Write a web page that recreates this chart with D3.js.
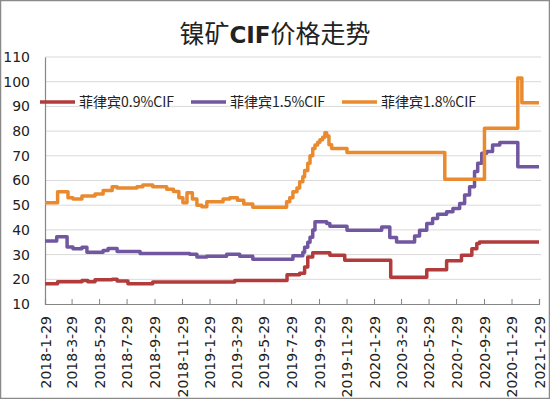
<!DOCTYPE html>
<html>
<head>
<meta charset="utf-8">
<script src="https://cdn.jsdelivr.net/npm/d3@7"></script>
<style>
  body { margin: 0; background: #fff; }
  svg { display: block; }
  text { font-family: "DejaVu Sans", "Noto Sans CJK SC", sans-serif; fill: #222; }
  .cjk { font-family: "Noto Sans CJK SC", "DejaVu Sans", sans-serif; }
</style>
</head>
<body>
<svg id="chart" width="550" height="399"></svg>
<script>
// series names, in legend order
var seriesNames = ["菲律宾0.9%CIF", "菲律宾1.5%CIF", "菲律宾1.8%CIF"];
var seriesColors = ["#B23B3B", "#7157A0", "#EA8A2E"];

// x tick labels (every two months)
var tickLabels = ["2018-1-29", "2018-3-29", "2018-5-29", "2018-7-29", "2018-9-29", "2018-11-29",
  "2019-1-29", "2019-3-29", "2019-5-29", "2019-7-29", "2019-9-29", "2019-11-29",
  "2020-1-29", "2020-3-29", "2020-5-29", "2020-7-29", "2020-9-29", "2020-11-29", "2021-1-29"];
var yTicks = [10, 20, 30, 40, 50, 60, 70, 80, 90, 100, 110];

// price change points (value holds until next date)
var ph09 = [
  ["2018-01-29", 18.2], ["2018-02-26", 19], ["2018-04-21", 19.5], ["2018-05-04", 19],
  ["2018-05-20", 19.8], ["2018-06-27", 20], ["2018-07-08", 19.3], ["2018-08-01", 18.2],
  ["2018-09-25", 18.9], ["2019-03-26", 19.5], ["2019-07-20", 21.8], ["2019-08-17", 22.5],
  ["2019-08-28", 25], ["2019-09-04", 29], ["2019-09-15", 30.7], ["2019-10-23", 29.7],
  ["2019-11-25", 27.7], ["2020-03-06", 20.8], ["2020-05-25", 23.9], ["2020-07-08", 27.5],
  ["2020-08-10", 29.7], ["2020-09-02", 32.4], ["2020-09-13", 34.5], ["2020-09-19", 35.1],
  ["2021-01-29", 35.1]
];
var ph15 = [
  ["2018-01-29", 35.5], ["2018-02-24", 37.2], ["2018-03-19", 33.1], ["2018-04-01", 32.4],
  ["2018-04-21", 33], ["2018-05-02", 31], ["2018-06-07", 31.7], ["2018-06-18", 32.5],
  ["2018-07-08", 31.3], ["2018-08-28", 30.4], ["2018-12-16", 30.1], ["2019-01-01", 29],
  ["2019-01-23", 29.3], ["2019-03-08", 30.1], ["2019-04-06", 29.3], ["2019-05-05", 28.1],
  ["2019-08-02", 29.5], ["2019-08-24", 31], ["2019-08-28", 33], ["2019-09-04", 35],
  ["2019-09-09", 37], ["2019-09-15", 40], ["2019-09-20", 43.3], ["2019-10-16", 42.6],
  ["2019-10-23", 41.5], ["2019-11-30", 39.9], ["2020-02-15", 41.2], ["2020-03-04", 36.9],
  ["2020-03-19", 35.1], ["2020-04-28", 37.5], ["2020-05-09", 39.9], ["2020-05-25", 42.6],
  ["2020-06-07", 44.6], ["2020-06-18", 46.3], ["2020-07-08", 47.3], ["2020-07-22", 48.7],
  ["2020-08-06", 50.7], ["2020-08-17", 54.1], ["2020-08-28", 57.5], ["2020-09-08", 63.6],
  ["2020-09-15", 67], ["2020-09-24", 71], ["2020-10-05", 71.7], ["2020-10-18", 74.4],
  ["2020-11-03", 75.4], ["2020-12-13", 65.6], ["2021-01-29", 65.6]
];
var ph18 = [
  ["2018-01-29", 51], ["2018-02-26", 55.4], ["2018-03-21", 53], ["2018-04-01", 52.5],
  ["2018-04-21", 53.7], ["2018-05-20", 54.5], ["2018-06-07", 56], ["2018-06-27", 57.5],
  ["2018-07-08", 57], ["2018-08-21", 57.5], ["2018-09-03", 58.2], ["2018-09-25", 57.5],
  ["2018-10-26", 56.5], ["2018-11-10", 55.5], ["2018-11-22", 53], ["2018-12-01", 51],
  ["2018-12-10", 55], ["2018-12-22", 52.5], ["2019-01-01", 50], ["2019-01-12", 49.4],
  ["2019-01-23", 51.4], ["2019-02-28", 52.5], ["2019-03-15", 53], ["2019-04-01", 52],
  ["2019-04-15", 50.5], ["2019-05-05", 49.2], ["2019-07-19", 51.4], ["2019-07-26", 53],
  ["2019-08-02", 55.4], ["2019-08-11", 57], ["2019-08-17", 59.5], ["2019-08-24", 61.5],
  ["2019-08-28", 64], ["2019-09-04", 67], ["2019-09-09", 70], ["2019-09-15", 73],
  ["2019-09-20", 74.4], ["2019-09-26", 75.5], ["2019-10-01", 76.5], ["2019-10-07", 77.5],
  ["2019-10-12", 79.3], ["2019-10-16", 78], ["2019-10-21", 74.5], ["2019-10-27", 73],
  ["2019-11-30", 71.3], ["2020-07-04", 60.5], ["2020-09-30", 81.2], ["2020-12-13", 101.5],
  ["2020-12-22", 91.5], ["2021-01-29", 91.5]
];
var allSeries = [ph09, ph15, ph18];

var parseIso = d3.timeParse("%Y-%m-%d");

var svg = d3.select("#chart");

// outer frame
svg.append("rect")
  .attr("x", 0.5).attr("y", 0.5)
  .attr("width", 549).attr("height", 398)
  .attr("fill", "#fff")
  .attr("stroke", "#8a8a8a")
  .attr("stroke-width", 1.5);

var plotLeft = 45, plotRight = 539, plotTop = 57, plotBottom = 304;

var x = d3.scaleTime()
  .domain([parseIso("2018-01-29"), parseIso("2021-01-29")])
  .range([plotLeft, plotRight]);
var y = d3.scaleLinear().domain([10, 110]).range([plotBottom, plotTop]);

// title
var title = svg.append("text")
  .attr("class", "cjk")
  .attr("x", 275).attr("y", 43)
  .attr("text-anchor", "middle")
  .style("font-size", "25px");
title.append("tspan").text("镍矿");
title.append("tspan").style("font-weight", "bold").style("font-family", "'DejaVu Sans'").style("font-size", "23px").text("CIF");
title.append("tspan").text("价格走势");

// gridlines
svg.append("g").selectAll("line")
  .data(yTicks.slice(1))
  .enter().append("line")
  .attr("x1", plotLeft).attr("x2", plotRight + 2)
  .attr("y1", function(d) { return y(d); })
  .attr("y2", function(d) { return y(d); })
  .attr("stroke", "#d9d9d9")
  .attr("stroke-width", 1);

// y axis
var yAxis = d3.axisLeft(y).tickValues(yTicks).tickSize(0).tickPadding(0);
var gy = svg.append("g").attr("transform", "translate(" + plotLeft + ",0)").call(yAxis);
gy.select(".domain").attr("stroke", "#868686").attr("stroke-width", 1.2);
gy.selectAll("text")
  .attr("x", -15)
  .style("font-size", "14px")
  .style("font-family", "'DejaVu Sans'")
  .attr("fill", "#222");

// x axis
var xAxis = d3.axisBottom(x)
  .tickValues(tickLabels.map(parseIso))
  .tickSize(-5)
  .tickFormat(function(d, i) { return tickLabels[i]; });
var gx = svg.append("g").attr("transform", "translate(0," + plotBottom + ")").call(xAxis);
gx.select(".domain").attr("stroke", "#868686").attr("stroke-width", 1.2);
gx.selectAll(".tick line").attr("stroke", "#868686");
gx.selectAll("text")
  .attr("transform", "rotate(-90)")
  .attr("x", -12).attr("y", 0).attr("dy", "0.36em")
  .style("text-anchor", "end")
  .style("font-size", "14px")
  .style("font-family", "'DejaVu Sans'")
  .attr("fill", "#222");

// lines
var line = d3.line()
  .curve(d3.curveStepAfter)
  .x(function(d) { return x(parseIso(d[0])); })
  .y(function(d) { return y(d[1]); });

svg.append("g").selectAll("path")
  .data(allSeries)
  .enter().append("path")
  .attr("d", line)
  .attr("fill", "none")
  .attr("stroke", function(d, i) { return seriesColors[i]; })
  .attr("stroke-width", 3.5)
  .attr("stroke-linejoin", "round");

// legend
var legendX = [40, 191, 342];
var legend = svg.append("g").selectAll("g")
  .data(seriesNames)
  .enter().append("g")
  .attr("transform", function(d, i) { return "translate(" + legendX[i] + ",102)"; });
legend.append("line")
  .attr("x1", 0).attr("x2", 35)
  .attr("stroke", function(d, i) { return seriesColors[i]; })
  .attr("stroke-width", 3.5);
legend.append("text")
  .attr("class", "cjk")
  .attr("x", 39).attr("y", 5)
  .style("font-size", "14px")
  .text(function(d) { return d; });
</script>
</body>
</html>
